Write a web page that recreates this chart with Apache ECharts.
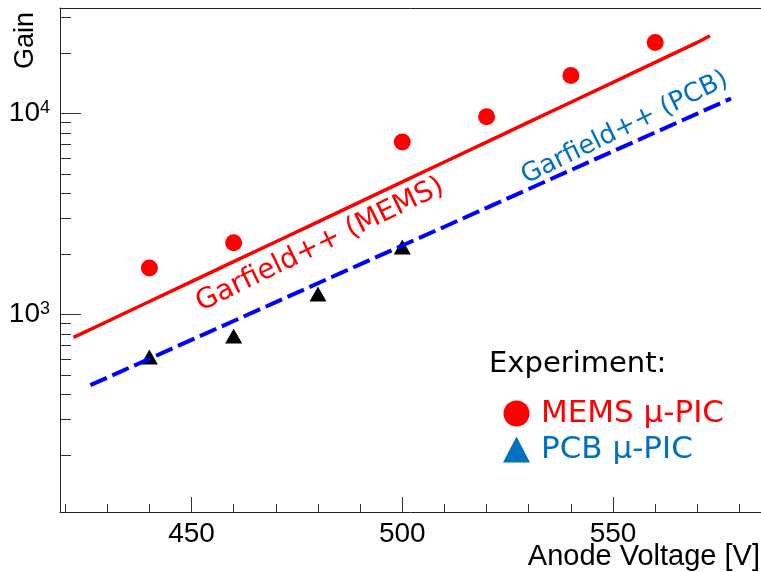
<!DOCTYPE html>
<html>
<head>
<meta charset="utf-8">
<script src="https://cdn.jsdelivr.net/npm/echarts@6/dist/echarts.min.js"></script>
<style>
  html, body { margin: 0; padding: 0; background: #fff; }
  #chart { width: 761px; height: 572px; }
</style>
</head>
<body>
<div id="chart"></div>
<script>
// Measured gain of the two detector types
const memsVoltage = [440, 460, 500, 520, 540, 560];
const memsGain    = [1700, 2270, 7200, 9600, 15400, 22500];

const pcbVoltage  = [440, 460, 480, 500];
const pcbGain     = [613, 780, 1260, 2160];

// Garfield++ simulated gain curves
const simMemsVoltage = [422, 430, 440, 450, 460, 470, 480, 490, 500, 510, 520, 530, 540, 550, 560, 570, 573];
const simMemsGain    = [768, 921, 1158, 1454, 1827, 2296, 2885, 3625, 4554, 5721, 7189, 9033, 11350, 14260, 17920, 22510, 24300];

const simPcbVoltage  = [426, 430, 440, 450, 460, 470, 480, 490, 500, 510, 520, 530, 540, 550, 560, 570, 578];
const simPcbGain     = [444, 484, 601, 746, 926, 1149, 1427, 1771, 2198, 2727, 3384, 4201, 5215, 6471, 8030, 9968, 11850];

// Axis ranges and tick positions
const voltageMin = 418.8, voltageMax = 585.1;
const gainMin = 103.85, gainMax = 33400;
const voltageMajor = [450, 500, 550];
const voltageMinor = [420, 430, 440, 460, 470, 480, 490, 510, 520, 530, 540, 560, 570, 580];
const gainMajor = [1000, 10000];
const gainMinor = [200, 300, 400, 500, 600, 700, 800, 900,
                   2000, 3000, 4000, 5000, 6000, 7000, 8000, 9000, 20000, 30000];

const zip = (xs, ys) => xs.map((x, i) => [x, ys[i]]);

const AXIS_FONT = "'Liberation Sans', Arial, Helvetica, sans-serif";
const HAND_FONT = "'DejaVu Sans', 'Noto Sans', sans-serif";
const lineCol = '#222';
const tickCol = '#333';

const chart = echarts.init(document.getElementById('chart'), null, { renderer: 'canvas' });

const baseX = {
  type: 'value', gridIndex: 0, min: voltageMin, max: voltageMax,
  splitLine: { show: false }, minorTick: { show: false }, minorSplitLine: { show: false }
};
const baseY = {
  type: 'log', logBase: 10, gridIndex: 0, min: gainMin, max: gainMax, position: 'left',
  splitLine: { show: false }, minorTick: { show: false }, minorSplitLine: { show: false }
};

chart.setOption({
  animation: false,
  backgroundColor: '#fff',
  grid: { left: 60, right: 0, top: 8, bottom: 60, containLabel: false },
  xAxis: [
    Object.assign({}, baseX, {
      position: 'bottom',
      axisLine: { show: true, onZero: false, lineStyle: { color: lineCol, width: 1 } },
      axisTick: { show: true, inside: true, length: 15, customValues: voltageMajor, lineStyle: { color: tickCol, width: 1 } },
      axisLabel: { show: true, customValues: voltageMajor, margin: 8, color: '#000', fontSize: 28, fontFamily: AXIS_FONT }
    }),
    Object.assign({}, baseX, {
      position: 'bottom',
      axisLine: { show: false, onZero: false },
      axisTick: { show: true, inside: true, length: 8, customValues: voltageMinor, lineStyle: { color: tickCol, width: 1 } },
      axisLabel: { show: false }
    }),
    Object.assign({}, baseX, {
      position: 'top',
      axisLine: { show: true, onZero: false, lineStyle: { color: lineCol, width: 1 } },
      axisTick: { show: false },
      axisLabel: { show: false }
    })
  ],
  yAxis: [
    Object.assign({}, baseY, {
      axisLine: { show: true, onZero: false, lineStyle: { color: lineCol, width: 1 } },
      axisTick: { show: true, inside: true, length: 21, customValues: gainMajor, lineStyle: { color: tickCol, width: 1 } },
      axisLabel: {
        show: true, customValues: gainMajor, margin: 10,
        formatter: v => '{b|10}{s|' + Math.round(Math.log10(v)) + '}',
        rich: {
          b: { fontSize: 28, fontFamily: AXIS_FONT, color: '#000', verticalAlign: 'bottom' },
          s: { fontSize: 18, fontFamily: AXIS_FONT, color: '#000', verticalAlign: 'top' }
        }
      }
    }),
    Object.assign({}, baseY, {
      axisLine: { show: false, onZero: false },
      axisTick: { show: true, inside: true, length: 11, customValues: gainMinor, lineStyle: { color: tickCol, width: 1 } },
      axisLabel: { show: false }
    })
  ],
  legend: {
    orient: 'vertical', left: 498, top: 393,
    itemWidth: 27, itemHeight: 26, itemGap: 5,
    selectedMode: false,
    textStyle: { fontSize: 31, fontFamily: HAND_FONT, padding: [0, 0, 0, 6] },
    data: [
      { name: 'MEMS μ-PIC', icon: 'circle', itemStyle: { color: '#ff0000', opacity: 1 }, textStyle: { color: '#ff0000' } },
      { name: 'PCB μ-PIC', icon: 'triangle', itemStyle: { color: '#0070c0', opacity: 1 }, textStyle: { color: '#0070c0' } }
    ]
  },
  graphic: [
    { type: 'text', left: 489, top: 350,
      style: { text: 'Experiment:', font: "29px 'DejaVu Sans', 'Noto Sans', sans-serif", fill: '#000' } },
    { type: 'text', x: 26, y: 12, rotation: Math.PI / 2,
      style: { text: 'Gain', font: "27px 'Liberation Sans', Arial, sans-serif", fill: '#000',
               textAlign: 'right', textVerticalAlign: 'middle' } },
    { type: 'text', x: 760, y: 571,
      style: { text: 'Anode Voltage [V]', font: "29px 'Liberation Sans', Arial, sans-serif", fill: '#000',
               textAlign: 'right', textVerticalAlign: 'bottom' } }
  ],
  series: [
    {
      type: 'scatter', name: 'MEMS μ-PIC', xAxisIndex: 0, yAxisIndex: 0,
      data: zip(memsVoltage, memsGain),
      symbol: 'circle', symbolSize: 17,
      itemStyle: { color: '#ff0000', opacity: 1 }, z: 2
    },
    {
      type: 'scatter', name: 'PCB μ-PIC', xAxisIndex: 0, yAxisIndex: 0,
      data: zip(pcbVoltage, pcbGain),
      symbol: 'triangle', symbolSize: [17, 15],
      itemStyle: { color: '#000', opacity: 1 }, z: 2
    },
    {
      type: 'line', name: 'Garfield++ (MEMS)', xAxisIndex: 0, yAxisIndex: 0,
      data: zip(simMemsVoltage, simMemsGain),
      showSymbol: false, symbol: 'none', clip: true,
      lineStyle: { color: '#ff0000', width: 3.5 }, z: 3
    },
    {
      type: 'line', name: 'Garfield++ (PCB)', xAxisIndex: 0, yAxisIndex: 0,
      data: zip(simPcbVoltage, simPcbGain),
      showSymbol: false, symbol: 'none', clip: true,
      lineStyle: { color: '#0000ff', width: 4, type: [18, 6] }, z: 3
    },
    {
      type: 'scatter', name: 'sim-label-mems', xAxisIndex: 0, yAxisIndex: 0,
      data: [[480.5, 2213]], symbolSize: 0, silent: true, z: 4,
      itemStyle: { opacity: 1 },
      label: { show: true, position: 'inside', rotate: 26, formatter: 'Garfield++ (MEMS)',
               color: '#ff0000', opacity: 1, fontSize: 28, fontFamily: HAND_FONT }
    },
    {
      type: 'scatter', name: 'sim-label-pcb', xAxisIndex: 0, yAxisIndex: 0,
      data: [[552.8, 8452]], symbolSize: 0, silent: true, z: 4,
      itemStyle: { opacity: 1 },
      label: { show: true, position: 'inside', rotate: 26, formatter: 'Garfield++ (PCB)',
               color: '#0070c0', opacity: 1, fontSize: 26, fontFamily: HAND_FONT }
    }
  ]
});
</script>
</body>
</html>
